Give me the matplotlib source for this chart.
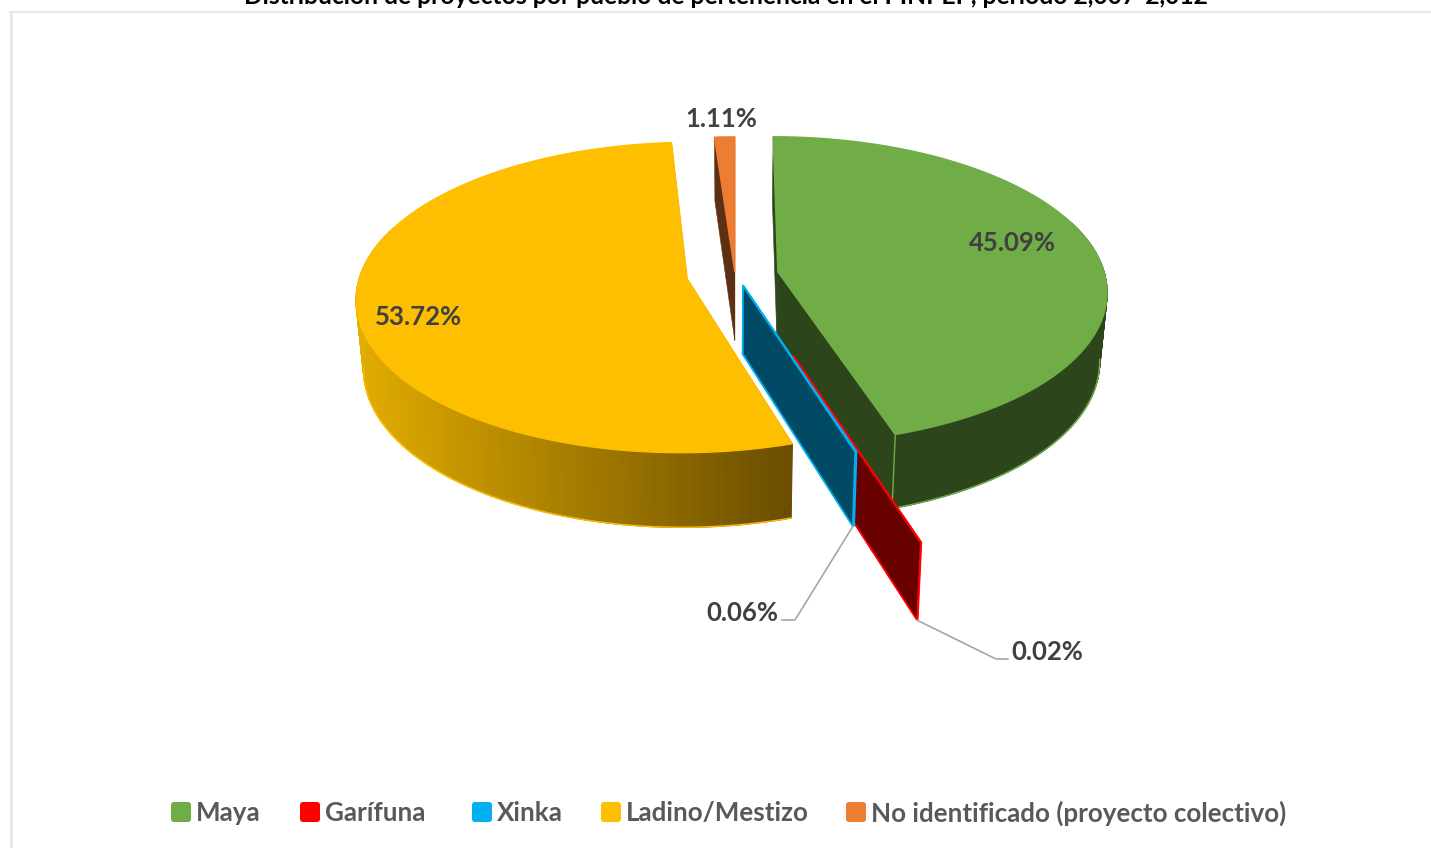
import numpy as np
import matplotlib
matplotlib.use('Agg')
import matplotlib.pyplot as plt
from matplotlib.colors import to_rgb
from matplotlib.patches import FancyBboxPatch

title = "Distribución de proyectos por pueblo de pertenencia en el PINPEP, período 2,007-2,012"
pueblos = ['Maya', 'Garífuna', 'Xinka', 'Ladino/Mestizo', 'No identificado (proyecto colectivo)']
valores = [45.09, 0.02, 0.06, 53.72, 1.11]

colores = ['#70AD47', '#FF0000', '#00B0F0', '#FDBF00', '#ED7D31']
paredes = ['#2D451B', '#690000', '#004A66', '#6B4E00', '#5E3013']
explosion = [0.136, 0.525, 0.07, 0.136, 0.02]
nudge = [2, 6, 4, -1, 3]

# projection of the tilted pie, in pixels
X0, Y0 = 732, 275
RX, RY, K = 327, 152, 0.12
ALTO = 68.5
BASE = 0.98


def proyectar(x, y, abajo=False):
    d = 1 + K * y
    if abajo:
        d = d / BASE
        return X0 + RX * x / d, Y0 - RY * y / d + ALTO / (d * BASE)
    return X0 + RX * x / d, Y0 - RY * y / d


def punto(i, ang, r, abajo=False):
    ini, fin = limites[i]
    med = (ini + fin) / 2
    x = explosion[i] * np.sin(med) + r * np.sin(ang)
    y = explosion[i] * np.cos(med) + r * np.cos(ang)
    px, py = proyectar(x, y, abajo)
    return px + nudge[i], py


bordes = np.cumsum([0] + valores) / sum(valores) * 2 * np.pi
limites = list(zip(bordes[:-1], bordes[1:]))


def mezcla(c1, c2, t):
    a, b = np.array(to_rgb(c1)), np.array(to_rgb(c2))
    return tuple(a + (b - a) * min(max(t, 0), 1))


def dibujar(ax, i):
    ini, fin = limites[i]
    color, pared = colores[i], paredes[i]
    angs = np.linspace(ini, fin, 160)
    gradiente = pueblos[i] == 'Ladino/Mestizo'
    delgado = fin - ini < 0.02

    # the two cut walls
    for a in (ini, fin):
        pts = [punto(i, a, 0), punto(i, a, 1), punto(i, a, 1, True), punto(i, a, 0, True)]
        ax.fill(*zip(*pts), fc=pared, ec=color if delgado else pared, lw=1.3 if delgado else 0.4, joinstyle='miter', zorder=i)

    # outer side, only the part facing the viewer (the rest sits under the top face)
    frente = angs[np.cos(angs) < 0.35]
    if len(frente) > 1 and not delgado:
        for a, b in zip(frente[:-1], frente[1:]):
            pts = [punto(i, a, 1), punto(i, b, 1), punto(i, b, 1, True), punto(i, a, 1, True)]
            fc = pared
            if gradiente:
                fc = mezcla('#E2AC00', '#6B4E00', (pts[0][0] - 355) / (792 - 355))
            ax.fill(*zip(*pts), fc=fc, ec=fc, lw=1, zorder=i)
        ax.plot(*zip(*[punto(i, a, 1, True) for a in angs[np.cos(angs) < -0.12]]), color=color, lw=1, zorder=i)
        if pueblos[i] == 'Maya':
            ax.plot(*zip(punto(i, fin, 1), punto(i, fin, 1, True)), color=color, lw=1, zorder=i)

    # top face
    pts = [punto(i, ini, 0)] + [punto(i, a, 1) for a in angs]
    ax.fill(*zip(*pts), fc=color, ec=color, lw=1, zorder=i)


fig = plt.figure(figsize=(14.31, 8.48), dpi=100)
ax = fig.add_axes([0, 0, 1, 1])
ax.set_xlim(0, 1431)
ax.set_ylim(848, 0)
ax.axis('off')

# chart frame
ax.plot([11, 11], [11, 848], color='#E8E8E8', lw=2.2, zorder=0, solid_capstyle='butt')
ax.plot([9, 1431], [11.5, 11.5], color='#E4E4E4', lw=1.2, zorder=0, solid_capstyle='butt')

# the title is cut by the top edge in the reference too
ax.text(726, 4, title, ha='center', va='baseline', fontsize=17.7, fontweight='bold', family='Lato', color='black')

for i in [3, 4, 0, 1, 2]:
    dibujar(ax, i)

# leader lines
xk = punto(2, limites[2][1], 1, True)
gf = punto(1, limites[1][1], 1, True)
ax.plot([xk[0], 795, 782], [xk[1], 620, 620], color='#A6A6A6', lw=1.2, zorder=6)
ax.plot([gf[0], 996, 1008], [gf[1], 659, 659], color='#A6A6A6', lw=1.2, zorder=6)

# data labels
pos_etiquetas = [(1012, 243), (1047, 652), (742, 613), (418, 317), (721, 119)]
for v, (x, y) in zip(valores, pos_etiquetas):
    ax.text(x, y, f'{v:.2f}%', ha='center', va='center', fontsize=18.5, fontweight='bold', family='Lato', color='#404040', zorder=7)

# legend
pos_leyenda = [171, 300, 472, 601, 846]
for nombre, c, x in zip(pueblos, colores, pos_leyenda):
    ax.add_patch(FancyBboxPatch((x + 2, 804), 16, 16, boxstyle='round,pad=2,rounding_size=3', fc=c, ec='none'))
    ax.text(x + 25, 813, nombre, ha='left', va='center', fontsize=18.7, fontweight='bold', family='Lato', color='#595959')

fig.savefig('out.png', dpi=100)
